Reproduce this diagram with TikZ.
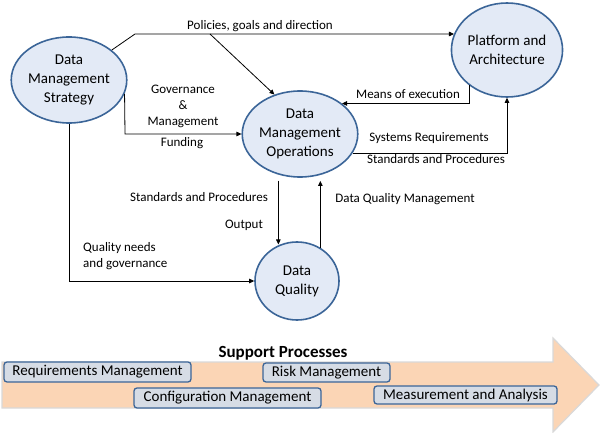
\documentclass[tikz,border=0pt]{standalone}
\usepackage{fontspec}
\setmainfont{Carlito}
\usetikzlibrary{shapes.geometric,arrows.meta}
\definecolor{nodefill}{HTML}{E3EAF6}
\definecolor{nodeline}{HTML}{3B6598}
\definecolor{peach}{HTML}{FBD5B5}
\definecolor{arrowedge}{HTML}{D9D9D9}
\definecolor{boxfill}{HTML}{D6DCE5}
\begin{document}
\begin{tikzpicture}[x=1pt, y=-1pt,
  procnode/.style={ellipse, draw=nodeline, fill=nodefill, line width=1.6pt,
    inner sep=0pt, align=center, font=\fontsize{15}{19}\selectfont},
  flowlabel/.style={inner sep=0pt, align=center, font=\fontsize{13}{16}\selectfont},
  flowline/.style={line width=0.8pt, -{Triangle[length=5pt,width=4.5pt]}},
  supportbox/.style={rounded corners=3pt, draw=nodeline, fill=boxfill, line width=1.3pt,
    inner sep=0pt, font=\fontsize{15}{18}\selectfont}]
  \useasboundingbox (0,0) rectangle (600,433);
  % processes
  \node[procnode, minimum width=98pt, minimum height=86pt] (strategy) at (69,80) {Data\\Management\\Strategy};
  \node[procnode, minimum width=90pt, minimum height=86pt] (ops) at (300,134) {Data\\Management\\Operations};
  \node[procnode, minimum width=106pt, minimum height=94pt] (platform) at (507,50) {Platform and\\Architecture};
  \node[procnode, minimum width=84pt, minimum height=78pt] (dq) at (297,281) {Data\\Quality};
  % policies, goals and direction
  \coordinate (polbend) at (135,34);
  \coordinate (polsplit) at (210,34);
  \draw[flowline] (strategy.35) -- (polbend) -- (polbend -| platform.163);
  \draw[flowline] (polsplit) -- (ops.123);
  \node[flowlabel] (polLbl) at (260,26) {Policies, goals and direction};
  % governance and funding
  \coordinate (govbend) at (125,134);
  \draw[flowline] (strategy.-14) -- (govbend) -- (ops.west);
  \node[flowlabel] (govLbl) at (183,106) {Governance\\\&\\Management};
  \node[flowlabel] (fundLbl) at (182,143) {Funding};
  % platform links
  \draw[flowline] (platform.223) |- (ops.36);
  \node[flowlabel] (execLbl) at (408,94) {Means of execution};
  \draw[flowline] (ops.-20) -| (platform.south);
  \node[flowlabel] (sysLbl) at (429,138) {Systems Requirements};
  \node[flowlabel] (stdLbl) at (436,159) {Standards and Procedures};
  % data quality links
  \draw[flowline, shorten <=6pt] (ops.242) -- (ops.242 |- dq.115);
  \node[flowlabel] (stdOutLbl) at (199,197) {Standards and Procedures};
  \node[flowlabel] (outLbl) at (244,225) {Output};
  \draw[flowline, shorten >=6pt] (dq.55) -- (dq.55 |- ops.297);
  \node[flowlabel] (dqmLbl) at (405,199) {Data Quality Management};
  \draw[flowline] (strategy.south) |- (dq.west);
  \node[flowlabel, anchor=west, align=left] (needLbl) at (83,256) {Quality needs\\and governance};
  % support processes
  \draw[arrowedge, fill=peach, line width=1.2pt] (2,362) -- (553,362) -- (553,338) -- (599,385)
    -- (553,432) -- (553,408) -- (2,408) -- cycle;
  \node[font=\fontsize{17}{20}\selectfont\bfseries, inner sep=0pt] (supLbl) at (283,353) {Support Processes};
  \node[supportbox, minimum width=187pt, minimum height=20pt] (req) at (97.5,372) {Requirements Management};
  \node[supportbox, minimum width=127pt, minimum height=19pt] (risk) at (326.5,372.5) {Risk Management};
  \node[supportbox, minimum width=187pt, minimum height=20pt] (conf) at (227.5,398) {Configuration Management};
  \node[supportbox, minimum width=183pt, minimum height=18pt] (meas) at (465.5,395) {Measurement and Analysis};
\end{tikzpicture}
\end{document}
